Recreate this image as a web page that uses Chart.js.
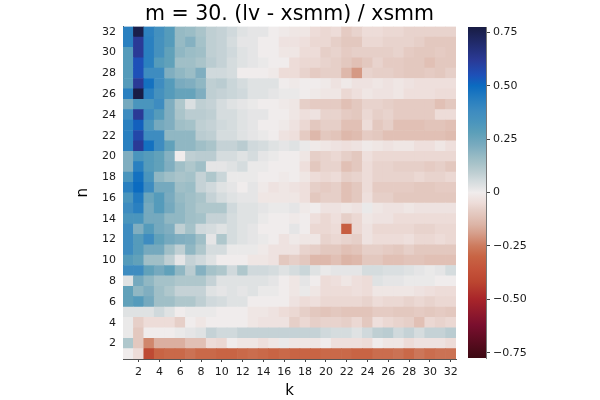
<!DOCTYPE html>
<html>
<head>
<meta charset="utf-8">
<script src="https://cdn.jsdelivr.net/npm/chart.js@4.4.0/dist/chart.umd.min.js"></script>
<style>
  html, body { margin: 0; padding: 0; background: #fff; }
  #wrap { position: relative; width: 600px; height: 400px; }
  #wrap canvas { position: absolute; left: 0; top: 0; }
</style>
</head>
<body>
<div id="wrap">
  <canvas id="heat" width="600" height="400"></canvas>
  <canvas id="cbar" width="600" height="400"></canvas>
</div>
<script>
// k along x, n along y
const kValues = [1,2,3,4,5,6,7,8,9,10,11,12,13,14,15,16,17,18,19,20,21,22,23,24,25,26,27,28,29,30,31,32];
const nValues = [1,2,3,4,5,6,7,8,9,10,11,12,13,14,15,16,17,18,19,20,21,22,23,24,25,26,27,28,29,30,31,32];
const nTicks = [2,4,6,8,10,12,14,16,18,20,22,24,26,28,30,32];
const cbTicks = [-0.75, -0.5, -0.25, 0, 0.25, 0.5, 0.75];

// (lv - xsmm) / xsmm, one array per n, k = 1..32
const row1  = [0, -0.05, -0.4, -0.3, -0.29, -0.29, -0.27, -0.29, -0.29, -0.3, -0.3, -0.29, -0.28, -0.29, -0.3, -0.29, -0.3, -0.3, -0.3, -0.29, -0.29, -0.29, -0.3, -0.3, -0.28, -0.28, -0.27, -0.29, -0.26, -0.28, -0.27, -0.27];
const row2  = [0.12, -0.1, -0.23, -0.16, -0.16, -0.16, -0.12, -0.12, -0.05, -0.06, 0, -0.02, -0.02, -0.04, -0.02, 0.01, -0.02, -0.02, -0.02, 0, -0.04, -0.04, -0.04, -0.05, 0, -0.02, -0.02, -0.05, -0.03, -0.03, -0.03, -0.05];
const row3  = [0.01, -0.1, 0, 0, 0, 0.01, 0.02, 0.03, 0.08, 0.06, 0.06, 0.08, 0.08, 0.08, 0.08, 0.08, 0.08, 0.08, 0.08, 0.06, 0.05, 0.05, 0.03, 0.06, 0.09, 0.1, 0.06, 0.08, 0.05, 0.08, 0.08, 0.1];
const row4  = [0.01, -0.08, -0.05, -0.05, -0.05, -0.08, 0, -0.02, 0, 0, 0, 0, -0.02, -0.03, -0.03, -0.03, -0.08, -0.06, -0.08, -0.07, -0.07, -0.08, -0.06, -0.1, -0.04, -0.06, -0.07, -0.08, -0.12, -0.06, -0.07, -0.06];
const row5  = [0.03, 0.03, 0.03, 0.06, 0.03, 0, 0.01, 0.01, 0.01, 0, 0, 0, -0.02, -0.02, -0.03, -0.05, -0.06, -0.08, -0.1, -0.11, -0.1, -0.11, -0.11, -0.11, -0.09, -0.09, -0.1, -0.1, -0.09, -0.1, -0.09, -0.1];
const row6  = [0.27, 0.3, 0.23, 0.15, 0.15, 0.12, 0.12, 0.09, 0.06, 0.05, 0.03, 0.03, 0, 0, 0, 0, -0.03, -0.05, -0.04, -0.06, -0.06, -0.06, -0.06, -0.07, -0.05, -0.06, -0.06, -0.07, -0.06, -0.07, -0.06, -0.06];
const row7  = [0.27, 0.18, 0.21, 0.15, 0.12, 0.08, 0.08, 0.08, 0.03, 0.02, 0.03, 0.02, 0.03, 0.01, 0.01, 0, -0.02, 0.01, -0.02, -0.05, -0.05, -0.05, -0.04, -0.05, -0.02, -0.02, -0.02, -0.02, -0.03, -0.04, -0.05, -0.05];
const row8  = [0.03, 0.23, 0.18, 0.14, 0.14, 0.12, 0.12, 0.12, 0.08, 0.03, 0.03, 0.03, 0.03, 0.03, 0.02, 0, -0.02, 0.02, 0, -0.05, -0.04, -0.02, -0.04, -0.05, 0.03, 0.02, 0.02, 0.01, 0.01, 0.01, 0, 0];
const row9  = [0.38, 0.38, 0.27, 0.23, 0.27, 0.18, 0.1, 0.2, 0.14, 0.12, 0.06, 0.12, 0.06, 0.06, 0.05, 0.03, 0.05, 0.07, 0.03, 0.01, 0.02, 0.02, 0.02, 0.05, 0.05, 0.04, 0.04, 0.03, 0.02, 0.01, 0.02, 0.05];
const row10 = [0.3, 0.27, 0.15, 0.15, 0.09, 0.02, 0.08, 0.06, 0.03, 0, 0, 0, -0.02, -0.02, -0.03, -0.1, -0.08, -0.1, -0.14, -0.14, -0.12, -0.15, -0.14, -0.1, -0.1, -0.12, -0.12, -0.11, -0.11, -0.12, -0.12, -0.12];
const row11 = [0.38, 0.3, 0.23, 0.23, 0.15, 0.09, 0.18, 0.12, 0.05, 0.05, 0.01, 0.01, 0.01, -0.01, -0.03, -0.03, -0.03, -0.07, -0.08, -0.1, -0.1, -0.12, -0.11, -0.08, -0.08, -0.09, -0.1, -0.08, -0.1, -0.1, -0.1, -0.1];
const row12 = [0.38, 0.3, 0.38, 0.27, 0.23, 0.21, 0.2, 0.15, 0.02, 0.12, 0.05, 0.03, 0.02, 0.01, 0, -0.03, -0.01, -0.02, -0.02, -0.07, -0.06, -0.07, -0.08, -0.03, -0.05, -0.05, -0.05, -0.04, -0.06, -0.06, -0.05, -0.06];
const row13 = [0.38, 0.21, 0.3, 0.23, 0.21, 0.09, 0.14, 0.06, 0.05, 0.03, 0.05, 0.03, 0.02, 0, 0, 0, 0.02, 0, -0.06, -0.06, -0.05, -0.32, -0.06, -0.03, -0.06, -0.06, -0.06, -0.06, -0.07, -0.07, -0.06, -0.06];
const row14 = [0.33, 0.33, 0.23, 0.23, 0.18, 0.18, 0.15, 0.14, 0.08, 0.08, 0.05, 0.03, 0.03, 0.01, 0, 0, -0.01, 0, -0.04, -0.06, -0.04, -0.08, -0.06, -0.02, -0.03, -0.03, -0.05, -0.05, -0.05, -0.05, -0.05, -0.05];
const row15 = [0.38, 0.43, 0.23, 0.3, 0.23, 0.18, 0.15, 0.12, 0.12, 0.12, 0.06, 0.03, 0.03, 0.02, 0.01, 0.01, 0.02, -0.01, 0, -0.03, -0.03, -0.02, -0.03, 0.01, -0.02, -0.03, -0.03, -0.02, -0.03, -0.03, -0.03, -0.03];
const row16 = [0.33, 0.45, 0.25, 0.3, 0.22, 0.17, 0.15, 0.13, 0.08, 0.05, 0.03, 0.02, 0.02, -0.02, -0.02, -0.02, -0.02, -0.04, -0.1, -0.08, -0.08, -0.12, -0.1, -0.04, -0.08, -0.08, -0.1, -0.1, -0.1, -0.1, -0.1, -0.1];
const row17 = [0.43, 0.5, 0.38, 0.23, 0.23, 0.15, 0.16, 0.08, 0.06, 0.03, 0.02, 0, 0.02, -0.01, -0.03, -0.02, -0.03, -0.04, -0.08, -0.09, -0.08, -0.12, -0.1, -0.05, -0.09, -0.09, -0.09, -0.09, -0.1, -0.1, -0.09, -0.09];
const row18 = [0.33, 0.48, 0.33, 0.18, 0.15, 0.13, 0.14, 0.08, 0.12, 0.07, 0.01, 0.01, 0.01, 0, 0, -0.01, 0, -0.02, -0.05, -0.06, -0.05, -0.08, -0.07, -0.05, -0.07, -0.07, -0.07, -0.07, -0.06, -0.07, -0.07, -0.06];
const row19 = [0.21, 0.43, 0.3, 0.27, 0.21, 0.15, 0.12, 0.15, 0.02, 0.02, 0.03, 0.05, 0.01, 0.01, 0, 0, 0, -0.04, -0.1, -0.07, -0.07, -0.12, -0.1, -0.05, -0.07, -0.07, -0.08, -0.08, -0.08, -0.09, -0.08, -0.1];
const row20 = [0.21, 0.33, 0.3, 0.27, 0.2, 0, 0.09, 0.1, 0.1, 0.05, 0.05, 0.03, 0.05, 0.02, 0.01, 0, 0, -0.02, -0.08, -0.07, -0.06, -0.08, -0.1, -0.04, -0.06, -0.06, -0.06, -0.06, -0.06, -0.06, -0.06, -0.06];
const row21 = [0.43, 0.62, 0.48, 0.38, 0.27, 0.18, 0.18, 0.15, 0.13, 0.08, 0.08, 0.1, 0.06, 0.05, 0.03, 0.02, 0.03, 0.01, -0.01, -0.02, -0.03, -0.04, -0.03, -0.01, -0.02, -0.03, -0.02, -0.02, -0.04, -0.04, -0.02, -0.04];
const row22 = [0.43, 0.58, 0.38, 0.38, 0.18, 0.18, 0.18, 0.1, 0.09, 0.05, 0.05, 0.03, 0.02, 0.01, 0, -0.03, -0.04, -0.09, -0.14, -0.1, -0.11, -0.14, -0.13, -0.09, -0.1, -0.12, -0.12, -0.12, -0.12, -0.12, -0.12, -0.13];
const row23 = [0.43, 0.52, 0.33, 0.23, 0.21, 0.15, 0.14, 0.09, 0.08, 0.06, 0.05, 0.03, 0.02, 0, 0, -0.01, -0.03, -0.06, -0.1, -0.08, -0.08, -0.12, -0.12, -0.05, -0.1, -0.08, -0.12, -0.12, -0.12, -0.11, -0.11, -0.12];
const row24 = [0.38, 0.62, 0.38, 0.3, 0.21, 0.13, 0.1, 0.1, 0.09, 0.05, 0.05, 0.03, 0.02, 0.02, 0, 0, -0.02, -0.04, -0.03, -0.07, -0.07, -0.09, -0.1, -0.06, -0.08, -0.07, -0.09, -0.09, -0.09, -0.09, -0.05, -0.05];
const row25 = [0.23, 0.33, 0.33, 0.38, 0.21, 0.12, 0.04, 0.09, 0.08, 0.05, 0.03, 0.02, 0.01, 0, 0, -0.01, -0.02, -0.08, -0.09, -0.09, -0.09, -0.12, -0.1, -0.07, -0.07, -0.08, -0.09, -0.09, -0.09, -0.09, -0.12, -0.1];
const row26 = [0.43, 0.77, 0.43, 0.35, 0.3, 0.26, 0.26, 0.21, 0.09, 0.08, 0.07, 0.06, 0.03, 0.03, 0.02, 0.01, 0.01, 0, -0.01, -0.02, -0.02, -0.06, -0.04, -0.02, -0.03, -0.03, -0.02, -0.04, -0.04, -0.04, -0.05, -0.05];
const row27 = [0.3, 0.62, 0.48, 0.38, 0.3, 0.22, 0.21, 0.18, 0.09, 0.1, 0.07, 0.05, 0.03, 0.03, 0.03, 0, -0.01, 0, 0, -0.01, -0.03, -0.01, -0.03, -0.03, -0.02, -0.03, -0.02, -0.03, -0.04, -0.04, -0.04, -0.04];
const row28 = [0.3, 0.55, 0.38, 0.38, 0.21, 0.18, 0.16, 0.21, 0.06, 0.06, 0.05, 0, 0, 0, -0.01, -0.05, -0.05, -0.07, -0.09, -0.08, -0.08, -0.14, -0.2, -0.07, -0.08, -0.08, -0.09, -0.1, -0.1, -0.09, -0.1, -0.08];
const row29 = [0.3, 0.55, 0.43, 0.3, 0.27, 0.15, 0.15, 0.13, 0.1, 0.08, 0.05, 0.03, 0.02, 0.01, 0, 0, -0.05, -0.06, -0.06, -0.07, -0.08, -0.1, -0.12, -0.1, -0.07, -0.09, -0.09, -0.1, -0.1, -0.12, -0.1, -0.1];
const row30 = [0.3, 0.62, 0.43, 0.35, 0.27, 0.18, 0.16, 0.15, 0.09, 0.08, 0.06, 0.03, 0.02, 0, 0, -0.02, -0.02, -0.05, -0.05, -0.08, -0.07, -0.09, -0.08, -0.08, -0.08, -0.08, -0.07, -0.09, -0.1, -0.1, -0.09, -0.1];
const row31 = [0.43, 0.62, 0.43, 0.35, 0.3, 0.17, 0.2, 0.14, 0.09, 0.08, 0.05, 0.02, 0.02, 0, 0, -0.03, -0.03, -0.04, -0.06, -0.06, -0.08, -0.1, -0.1, -0.06, -0.06, -0.07, -0.07, -0.07, -0.08, -0.1, -0.1, -0.1];
const row32 = [0.43, 0.76, 0.42, 0.36, 0.3, 0.17, 0.16, 0.13, 0.09, 0.08, 0.06, 0.03, 0.02, 0.02, 0, -0.01, -0.02, -0.02, -0.05, -0.06, -0.05, -0.09, -0.07, -0.05, -0.05, -0.06, -0.06, -0.07, -0.07, -0.07, -0.07, -0.07];

const rows = [row1, row2, row3, row4, row5, row6, row7, row8, row9, row10, row11, row12, row13, row14, row15, row16,
  row17, row18, row19, row20, row21, row22, row23, row24, row25, row26, row27, row28, row29, row30, row31, row32];

// colour limits and a "balance" style diverging map
const cbMin = -0.775, cbMax = 0.775;
const stopValues = [-0.775, -0.62, -0.5, -0.42, -0.36, -0.3, -0.25, -0.19, -0.15, -0.11, -0.08, -0.05, 0,
  0.03, 0.06, 0.09, 0.13, 0.17, 0.22, 0.28, 0.33, 0.38, 0.43, 0.5, 0.55, 0.62, 0.775];
const stopColors = ['#3c0912', '#7a0f2e', '#a8252a', '#bb4530', '#c4533a', '#c86444', '#cd7b5e', '#d69f8c', '#dcb4a6', '#e2c4ba', '#e6cfc8', '#eddcd8', '#f0ecec',
  '#dfe2e3', '#d0d9dc', '#bfcfd3', '#aac4ca', '#96bac4', '#7aabbf', '#5c9fb9', '#4a95bd', '#3e8cc0', '#2a80c0', '#0b6bc0', '#1e50b8', '#2a3a96', '#181c43'];

function hexToRgb(h) {
  return [parseInt(h.slice(1, 3), 16), parseInt(h.slice(3, 5), 16), parseInt(h.slice(5, 7), 16)];
}

function balance(v) {
  const x = Math.max(cbMin, Math.min(cbMax, v));
  let i = 0;
  while (i < stopValues.length - 2 && x > stopValues[i + 1]) i++;
  const t = (x - stopValues[i]) / (stopValues[i + 1] - stopValues[i]);
  const a = hexToRgb(stopColors[i]), b = hexToRgb(stopColors[i + 1]);
  const c = a.map((ch, j) => Math.round(ch + (b[j] - ch) * t));
  return 'rgb(' + c.join(',') + ')';
}

Chart.defaults.font.family = 'DejaVu Sans';
Chart.defaults.font.size = 11;
Chart.defaults.color = '#1a1a1a';

// one floating-bar dataset per n row; each bar spans n-0.5 .. n+0.5
const datasets = rows.map((row, i) => ({
  label: 'n = ' + nValues[i],
  data: row.map(() => [nValues[i] - 0.5, nValues[i] + 0.5]),
  backgroundColor: row.map(balance),
  borderWidth: 0,
  grouped: false,
  barPercentage: 1,
  categoryPercentage: 1
}));

new Chart(document.getElementById('heat'), {
  type: 'bar',
  data: { labels: kValues.map(String), datasets: datasets },
  options: {
    responsive: false,
    animation: false,
    layout: { padding: { left: 70, right: 144, top: 0, bottom: 0 } },
    plugins: {
      legend: { display: false },
      tooltip: { enabled: false },
      title: {
        display: true,
        fullSize: false,
        text: 'm = 30. (lv - xsmm) / xsmm',
        color: '#000',
        font: { size: 20.5, weight: 'normal' },
        padding: { top: 2, bottom: 0 }
      }
    },
    scales: {
      x: {
        type: 'category',
        grid: {
          display: true,
          drawOnChartArea: false,
          offset: false,
          tickLength: 3,
          color: (c) => (c.index % 2 === 1 ? '#444' : 'rgba(0,0,0,0)')
        },
        border: { display: true, color: '#555', width: 1 },
        ticks: {
          autoSkip: false,
          maxRotation: 0,
          padding: 4,
          callback: (val, idx) => (kValues[idx] % 2 === 0 ? String(kValues[idx]) : '')
        },
        title: { display: true, text: 'k', color: '#000', font: { size: 15 }, padding: { top: 0, bottom: 0 } },
        afterFit: (s) => { s.height = 41; }
      },
      y: {
        type: 'linear',
        min: 0.5,
        max: 32.5,
        grid: { display: false, drawTicks: false },
        border: { display: true, color: '#555', width: 1 },
        ticks: { padding: 7 },
        afterBuildTicks: (s) => { s.ticks = nTicks.map((v) => ({ value: v })); },
        title: { display: true, text: 'n', color: '#000', font: { size: 15 }, padding: { top: 4, bottom: 0 } },
        afterFit: (s) => { s.width = 53; }
      }
    }
  }
});

// colour bar: gradient painted into the chart area using the y scale
const colorbarFill = {
  id: 'colorbarFill',
  beforeDatasetsDraw(chart) {
    const { ctx, chartArea: a, scales: { y } } = chart;
    const g = ctx.createLinearGradient(0, y.getPixelForValue(cbMin), 0, y.getPixelForValue(cbMax));
    stopValues.forEach((v, i) => g.addColorStop((v - cbMin) / (cbMax - cbMin), stopColors[i]));
    ctx.save();
    ctx.fillStyle = g;
    ctx.fillRect(a.left, a.top, a.right - a.left, a.bottom - a.top);
    ctx.restore();
  }
};

new Chart(document.getElementById('cbar'), {
  type: 'bar',
  data: { labels: [''], datasets: [] },
  options: {
    responsive: false,
    animation: false,
    layout: { padding: { left: 468, right: 0, top: 27, bottom: 42 } },
    plugins: { legend: { display: false }, tooltip: { enabled: false } },
    scales: {
      x: { display: false },
      y: {
        position: 'right',
        min: cbMin,
        max: cbMax,
        grid: { display: true, drawOnChartArea: false, tickLength: 4, color: '#444' },
        border: { display: true, color: '#777', width: 1 },
        ticks: {
          padding: 3,
          callback: (v) => (v === 0 ? '0' : (v < 0 ? '\u2212' : '') + Math.abs(v).toFixed(2))
        },
        afterBuildTicks: (s) => { s.ticks = cbTicks.map((v) => ({ value: v })); },
        afterFit: (s) => { s.width = 114; }
      }
    }
  },
  plugins: [colorbarFill]
});
</script>
</body>
</html>
